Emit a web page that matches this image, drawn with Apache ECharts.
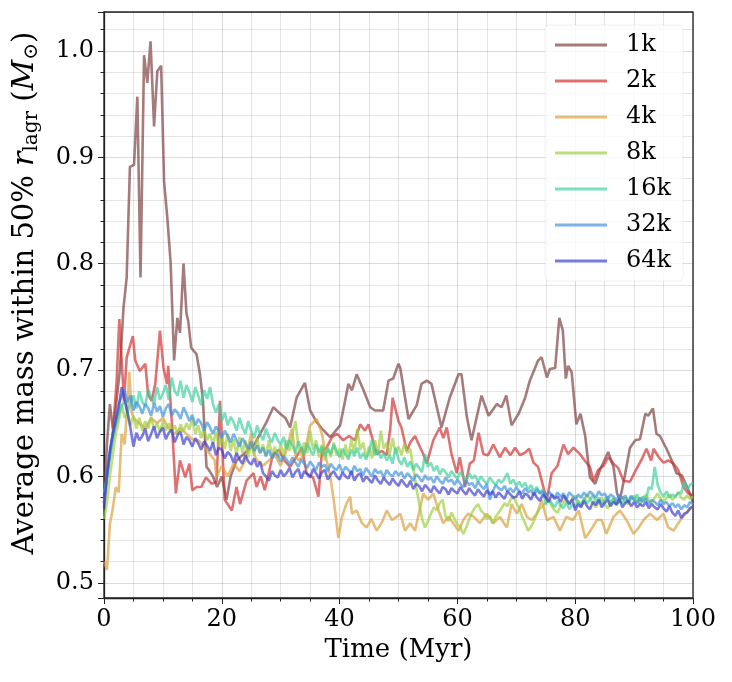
<!DOCTYPE html>
<html>
<head>
<meta charset="utf-8">
<title>Average mass within 50% r_lagr</title>
<script src="https://cdn.jsdelivr.net/npm/echarts@6/dist/echarts.min.js"></script>
<style>
  html, body { margin: 0; padding: 0; background: #fff; }
  #chart { width: 732px; height: 682px; }
</style>
</head>
<body>
<div id="chart"></div>
<script>
// legend names and colours, one per run
const runNames = ["1k", "2k", "4k", "8k", "16k", "32k", "64k"];
const runColors = [
  "rgba(123,60,60,0.68)",
  "rgba(207,47,47,0.68)",
  "rgba(220,158,60,0.68)",
  "rgba(158,207,60,0.68)",
  "rgba(60,207,158,0.68)",
  "rgba(60,146,220,0.68)",
  "rgba(60,60,207,0.68)"
];
const yTickValues = [0.5, 0.6, 0.7, 0.8, 0.9, 1.0];

// sparse runs: [time (Myr), mass (Msun)]
const run1k = [[0,0.575],[0.5,0.63],[1,0.668],[1.5,0.645],[2,0.665],[2.7,0.70],[3.3,0.758],[3.85,0.787],[4.4,0.891],[5.1,0.893],[5.66,0.957],[6.2,0.787],[6.8,0.996],[7.35,0.970],[7.9,1.009],[8.5,0.929],[9.05,0.981],[9.7,0.986],[10.2,0.877],[10.75,0.843],[11.3,0.802],[11.9,0.709],[12.45,0.749],[12.9,0.735],[13.5,0.80],[14.0,0.753],[14.3,0.746],[14.8,0.721],[15.7,0.715],[16.3,0.696],[16.8,0.671],[17.4,0.609],[17.7,0.607],[18.5,0.6],[19.2,0.59],[20,0.6],[20.8,0.578],[21.5,0.6],[22.5,0.615],[23.5,0.62],[24.5,0.625],[25.5,0.63],[26.5,0.64],[27.5,0.65],[28.75,0.665],[29.9,0.659],[30.8,0.655],[31.6,0.646],[32.7,0.674],[34.1,0.688],[35,0.662],[36,0.652],[37,0.645],[38.4,0.637],[38.9,0.64],[40.1,0.648],[41.5,0.687],[42.1,0.681],[42.9,0.696],[44,0.682],[45.2,0.665],[46,0.662],[47.4,0.662],[48.3,0.69],[49.1,0.692],[50,0.706],[50.3,0.702],[51.7,0.654],[53.1,0.667],[53.9,0.687],[54.8,0.69],[55.6,0.687],[57.3,0.646],[58.7,0.674],[60.2,0.696],[60.7,0.696],[61.6,0.656],[62.4,0.634],[64.1,0.676],[65.3,0.657],[66.7,0.668],[67.5,0.665],[68.3,0.676],[69.2,0.648],[70.4,0.659],[71.5,0.674],[72.3,0.69],[73.7,0.709],[74.3,0.712],[75.2,0.693],[75.7,0.701],[76.6,0.702],[77.3,0.749],[77.9,0.737],[78.4,0.692],[78.8,0.704],[79.4,0.698],[80.2,0.649],[80.9,0.659],[81.7,0.638],[82.5,0.599],[83.4,0.593],[84.2,0.606],[85.6,0.623],[86.5,0.609],[87.1,0.584],[87.6,0.578],[88.4,0.6],[89.3,0.627],[90.2,0.634],[91,0.635],[91.9,0.659],[92.4,0.657],[93.2,0.664],[93.8,0.64],[94.4,0.638],[95.5,0.626],[96.4,0.615],[97.2,0.603],[98.1,0.601],[99,0.59],[99.7,0.581],[100,0.575]];
const run2k = [[0,0.575],[0.5,0.6],[1,0.62],[1.5,0.64],[2.15,0.69],[2.6,0.748],[3,0.709],[3.4,0.671],[3.85,0.712],[4.9,0.732],[5.3,0.709],[6.1,0.699],[7,0.706],[7.5,0.677],[8.1,0.671],[8.7,0.687],[9.5,0.737],[10.1,0.702],[10.7,0.687],[10.9,0.704],[11.5,0.652],[12.2,0.584],[12.9,0.615],[13.8,0.599],[14.5,0.612],[15,0.587],[15.7,0.59],[16.5,0.59],[17.3,0.599],[18.3,0.593],[19.1,0.595],[19.7,0.671],[20.5,0.578],[21.7,0.568],[22.5,0.59],[23.1,0.574],[24.2,0.596],[25.4,0.603],[25.9,0.59],[26.6,0.6],[27.3,0.587],[28.7,0.621],[29.7,0.625],[30.6,0.615],[31.6,0.609],[32.6,0.618],[33.6,0.627],[34.4,0.603],[35.5,0.599],[36.4,0.581],[37,0.624],[37.8,0.627],[38.7,0.637],[39.6,0.64],[40.6,0.634],[41.6,0.638],[42.6,0.634],[43.5,0.649],[44.3,0.643],[44.9,0.649],[45.5,0.637],[46.3,0.621],[47.2,0.624],[48,0.62],[48.6,0.645],[49,0.674],[50,0.652],[50.5,0.646],[51.4,0.624],[52,0.632],[52.8,0.638],[53.7,0.627],[54.2,0.621],[54.8,0.612],[55.9,0.634],[57,0.646],[57.6,0.636],[58.2,0.646],[59,0.621],[59.9,0.603],[60.4,0.618],[61.3,0.59],[62.1,0.612],[62.8,0.615],[63.6,0.641],[64.4,0.621],[65.2,0.62],[66.1,0.63],[67.2,0.618],[68.1,0.627],[69,0.62],[69.8,0.627],[70.6,0.62],[71.4,0.622],[72.2,0.626],[72.9,0.613],[73.7,0.609],[74.6,0.59],[75.2,0.578],[76,0.603],[77,0.61],[78,0.63],[78.8,0.621],[79.7,0.627],[80.8,0.621],[81.6,0.615],[82.5,0.609],[83.1,0.596],[83.9,0.606],[84.8,0.61],[85.6,0.618],[86.5,0.612],[87.3,0.608],[88.2,0.596],[89.3,0.595],[90.2,0.605],[91.2,0.615],[92.1,0.626],[92.9,0.615],[93.3,0.626],[94.2,0.618],[95,0.613],[95.8,0.615],[96.7,0.612],[97.5,0.606],[98.4,0.59],[99.2,0.584],[100,0.582]];
const run4k = [[0,0.52],[0.5,0.512],[1,0.555],[1.5,0.57],[2,0.59],[2.5,0.585],[3,0.64],[3.5,0.63],[4,0.67],[4.3,0.698],[4.7,0.66],[5,0.655],[6,0.65],[7,0.645],[8,0.655],[9,0.65],[10,0.655],[11,0.645],[12,0.64],[13,0.645],[14,0.64],[15,0.635],[16,0.634],[17,0.628],[18,0.621],[18.8,0.615],[19.1,0.599],[20,0.61],[21,0.6],[22,0.612],[23,0.605],[24,0.615],[25,0.641],[25.5,0.62],[26,0.615],[27,0.61],[28,0.615],[29,0.62],[30,0.61],[31,0.625],[31.9,0.645],[32.5,0.62],[33,0.615],[34,0.62],[35,0.648],[36.1,0.654],[37,0.64],[37.8,0.615],[38.4,0.6],[39,0.578],[39.8,0.542],[40.4,0.562],[41.2,0.575],[41.8,0.581],[42.1,0.565],[42.9,0.568],[43.8,0.556],[44.6,0.552],[45.4,0.56],[46.3,0.549],[47.2,0.557],[48,0.568],[48.9,0.559],[49.7,0.562],[50.3,0.565],[51.1,0.549],[52,0.556],[52.8,0.549],[53.7,0.571],[54.2,0.584],[55,0.578],[55.9,0.584],[56.8,0.568],[57.6,0.556],[58.5,0.562],[59.3,0.556],[60.2,0.549],[61,0.559],[61.8,0.565],[62.8,0.562],[63.8,0.556],[65,0.565],[66.1,0.556],[67.2,0.562],[68.4,0.552],[69.2,0.574],[70.1,0.565],[70.9,0.574],[71.8,0.562],[72.6,0.559],[73.5,0.565],[74.3,0.578],[75.2,0.559],[76.3,0.562],[77.4,0.549],[78.5,0.562],[79.6,0.559],[80.6,0.568],[81.7,0.542],[82.6,0.549],[83.7,0.559],[84.5,0.559],[85.3,0.546],[86.5,0.562],[87.6,0.568],[88.7,0.559],[89.9,0.546],[90.8,0.552],[91.6,0.559],[92.7,0.565],[93.9,0.559],[95,0.565],[95.8,0.552],[96.7,0.549],[97.5,0.556],[98.3,0.562],[99.2,0.568],[100,0.572]];

// dense runs: one value every 0.5 Myr from 0 to 100
const denseStep = 0.5;
const run8k = [
  0.560,0.575,0.600,0.621,0.640,0.652,0.668,0.655,0.660,0.648,0.657,0.645,0.655,0.643,0.652,0.645,0.656,0.644,0.650,0.642,
  0.652,0.643,0.650,0.641,0.648,0.640,0.649,0.642,0.650,0.644,0.655,0.640,0.648,0.636,0.645,0.634,0.640,0.630,0.642,0.628,
  0.638,0.626,0.640,0.624,0.635,0.620,0.637,0.622,0.634,0.618,0.632,0.620,0.636,0.622,0.630,0.619,0.634,0.621,0.628,0.618,
  0.630,0.620,0.634,0.624,0.640,0.652,0.628,0.620,0.632,0.622,0.643,0.625,0.634,0.618,0.630,0.615,0.628,0.618,0.632,0.620,
  0.626,0.616,0.630,0.618,0.635,0.622,0.645,0.625,0.632,0.618,0.628,0.617,0.634,0.621,0.643,0.626,0.632,0.620,0.636,0.622,
  0.628,0.620,0.631,0.622,0.626,0.608,0.590,0.575,0.560,0.552,0.558,0.565,0.571,0.568,0.575,0.578,0.562,0.558,0.566,0.560,
  0.555,0.552,0.546,0.552,0.560,0.566,0.571,0.574,0.568,0.565,0.560,0.563,0.556,0.562,0.566,0.570,0.575,0.572,0.578,0.581,
  0.575,0.570,0.562,0.556,0.549,0.553,0.558,0.565,0.570,0.572,0.575,0.578,0.572,0.568,0.566,0.572,0.576,0.580,0.574,0.578,
  0.582,0.576,0.572,0.578,0.583,0.579,0.575,0.571,0.576,0.580,0.574,0.570,0.575,0.579,0.573,0.577,0.581,0.576,0.574,0.578,
  0.582,0.577,0.574,0.579,0.583,0.578,0.575,0.580,0.584,0.579,0.576,0.580,0.583,0.578,0.581,0.585,0.580,0.578,0.582,0.579,
  0.581
];
const run16k = [
  0.585,0.600,0.618,0.635,0.648,0.658,0.666,0.672,0.660,0.670,0.676,0.664,0.680,0.670,0.666,0.682,0.674,0.668,0.684,0.672,
  0.678,0.686,0.672,0.693,0.680,0.676,0.690,0.674,0.686,0.679,0.670,0.684,0.676,0.667,0.681,0.673,0.684,0.668,0.660,0.668,
  0.652,0.660,0.648,0.656,0.651,0.643,0.655,0.646,0.640,0.652,0.643,0.636,0.648,0.640,0.634,0.645,0.637,0.632,0.641,0.634,
  0.630,0.637,0.626,0.634,0.629,0.622,0.633,0.627,0.621,0.631,0.625,0.620,0.630,0.623,0.628,0.619,0.626,0.621,0.630,0.624,
  0.618,0.626,0.621,0.616,0.625,0.619,0.627,0.617,0.622,0.616,0.623,0.634,0.620,0.625,0.617,0.622,0.615,0.620,0.612,0.627,
  0.616,0.611,0.618,0.609,0.614,0.606,0.612,0.608,0.604,0.621,0.609,0.613,0.605,0.610,0.602,0.607,0.604,0.599,0.605,0.601,
  0.598,0.604,0.600,0.596,0.603,0.598,0.601,0.595,0.600,0.596,0.593,0.599,0.595,0.592,0.597,0.594,0.598,0.603,0.593,0.597,
  0.591,0.595,0.590,0.594,0.588,0.592,0.586,0.590,0.584,0.588,0.574,0.579,0.575,0.571,0.577,0.573,0.570,0.576,0.569,0.574,
  0.571,0.577,0.573,0.580,0.575,0.578,0.582,0.576,0.580,0.574,0.578,0.581,0.575,0.579,0.573,0.577,0.575,0.580,0.576,0.582,
  0.578,0.583,0.576,0.581,0.578,0.590,0.588,0.609,0.592,0.585,0.581,0.586,0.580,0.583,0.581,0.585,0.584,0.595,0.588,0.592,
  0.594
];
const run32k = [
  0.575,0.600,0.622,0.640,0.655,0.668,0.675,0.681,0.670,0.676,0.662,0.670,0.666,0.659,0.668,0.664,0.657,0.669,0.661,0.666,
  0.656,0.664,0.668,0.657,0.663,0.660,0.654,0.665,0.659,0.652,0.658,0.648,0.654,0.650,0.643,0.651,0.646,0.640,0.647,0.643,
  0.636,0.643,0.638,0.632,0.640,0.634,0.628,0.636,0.631,0.626,0.633,0.624,0.629,0.622,0.627,0.619,0.625,0.617,0.622,0.620,
  0.614,0.619,0.616,0.611,0.618,0.613,0.609,0.616,0.612,0.608,0.614,0.610,0.606,0.613,0.609,0.611,0.605,0.612,0.608,0.606,
  0.611,0.604,0.609,0.606,0.602,0.610,0.605,0.607,0.601,0.608,0.604,0.600,0.607,0.603,0.605,0.599,0.606,0.602,0.600,0.605,
  0.601,0.604,0.598,0.603,0.600,0.596,0.602,0.599,0.595,0.601,0.597,0.599,0.594,0.600,0.596,0.593,0.599,0.595,0.597,0.592,
  0.597,0.593,0.590,0.596,0.592,0.594,0.589,0.595,0.591,0.588,0.593,0.578,0.586,0.592,0.589,0.587,0.591,0.586,0.589,0.585,
  0.590,0.586,0.584,0.589,0.585,0.587,0.582,0.588,0.584,0.586,0.581,0.586,0.583,0.580,0.585,0.581,0.584,0.579,0.585,0.582,
  0.578,0.583,0.580,0.585,0.581,0.586,0.583,0.580,0.586,0.582,0.584,0.579,0.583,0.581,0.577,0.583,0.579,0.582,0.576,0.581,
  0.578,0.575,0.580,0.576,0.579,0.574,0.578,0.576,0.573,0.578,0.574,0.576,0.572,0.575,0.571,0.574,0.569,0.573,0.571,0.576,
  0.574
];
const run64k = [
  0.570,0.600,0.625,0.640,0.652,0.665,0.684,0.672,0.660,0.645,0.628,0.641,0.634,0.638,0.645,0.633,0.640,0.647,0.636,0.642,
  0.646,0.635,0.641,0.644,0.632,0.639,0.642,0.630,0.637,0.634,0.628,0.636,0.631,0.625,0.633,0.629,0.624,0.632,0.620,0.627,
  0.625,0.617,0.623,0.620,0.613,0.622,0.616,0.612,0.620,0.614,0.611,0.617,0.609,0.614,0.603,0.600,0.596,0.605,0.601,0.599,
  0.606,0.600,0.603,0.608,0.599,0.604,0.607,0.598,0.605,0.602,0.599,0.607,0.603,0.598,0.604,0.606,0.597,0.602,0.605,0.600,
  0.597,0.604,0.600,0.598,0.605,0.596,0.601,0.603,0.595,0.600,0.597,0.594,0.601,0.596,0.593,0.599,0.595,0.592,0.598,0.594,
  0.591,0.597,0.593,0.590,0.596,0.588,0.593,0.591,0.586,0.592,0.589,0.585,0.591,0.587,0.584,0.590,0.588,0.583,0.589,0.586,
  0.584,0.590,0.586,0.583,0.589,0.585,0.582,0.588,0.584,0.581,0.587,0.583,0.586,0.580,0.585,0.582,0.579,0.586,0.583,0.580,
  0.581,0.586,0.579,0.584,0.582,0.578,0.585,0.580,0.577,0.583,0.580,0.576,0.583,0.579,0.581,0.576,0.582,0.578,0.574,0.579,
  0.568,0.574,0.571,0.577,0.572,0.569,0.576,0.573,0.578,0.571,0.575,0.578,0.572,0.576,0.574,0.579,0.571,0.575,0.577,0.572,
  0.576,0.571,0.574,0.572,0.576,0.570,0.574,0.571,0.569,0.574,0.570,0.567,0.572,0.566,0.563,0.568,0.561,0.565,0.566,0.570,
  0.572
];

function denseToPairs(values) {
  return values.map((v, i) => [i * denseStep, v]);
}

const runData = [run1k, run2k, run4k, denseToPairs(run8k), denseToPairs(run16k), denseToPairs(run32k), denseToPairs(run64k)];

const font = "DejaVu Serif";
const axisColor = "#222";

const chart = echarts.init(document.getElementById("chart"), null, { renderer: "canvas" });

const option = {
  animation: false,
  backgroundColor: "#fff",
  textStyle: { fontFamily: font, color: "#000" },
  grid: {
    left: 104,
    right: 39,
    top: 12,
    bottom: 84,
    show: true,
    borderColor: axisColor,
    borderWidth: 1.3,
    backgroundColor: "transparent"
  },
  legend: {
    data: runNames,
    orient: "vertical",
    left: 545,
    top: 25,
    padding: [8, 12, 8, 10],
    itemWidth: 52,
    itemHeight: 3,
    itemGap: 12,
    icon: "rect",
    backgroundColor: "rgba(255,255,255,0.8)",
    borderColor: "rgba(0,0,0,0.06)",
    borderWidth: 1,
    borderRadius: 4,
    textStyle: {
      fontFamily: font,
      fontSize: 24,
      lineHeight: 24,
      color: "#000",
      padding: [0, 0, 0, 14]
    }
  },
  xAxis: {
    type: "value",
    min: 0,
    max: 100,
    interval: 20,
    name: "Time (Myr)",
    nameLocation: "middle",
    nameGap: 38,
    nameTextStyle: { fontFamily: font, fontSize: 26, color: "#000" },
    axisLine: { show: true, lineStyle: { color: axisColor, width: 1.3 } },
    axisTick: { show: true, length: 6, lineStyle: { color: axisColor, width: 1 } },
    minorTick: { show: true, splitNumber: 4, length: 3.5, lineStyle: { color: axisColor, width: 1 } },
    axisLabel: { fontFamily: font, fontSize: 24, color: "#000", margin: 10 },
    splitLine: { show: true, lineStyle: { color: "rgba(0,0,0,0.14)", width: 1 } },
    minorSplitLine: { show: true, lineStyle: { color: "rgba(0,0,0,0.1)", width: 1 } }
  },
  yAxis: {
    type: "value",
    min: 0.4857,
    max: 1.0366,
    splitNumber: 5,
    name: "Average mass within 50% {it|r}{sub|lagr} ({it|M}{sub|⊙})",
    nameLocation: "middle",
    nameGap: 62,
    nameTextStyle: {
      fontFamily: font,
      fontSize: 29,
      color: "#000",
      lineHeight: 34,
      padding: [0, 0, 0, 24],
      rich: {
        it: { fontFamily: font, fontStyle: "italic", fontSize: 30, color: "#000" },
        sub: { fontFamily: font, fontSize: 20, color: "#000", verticalAlign: "bottom", lineHeight: 34 }
      }
    },
    axisLine: { show: true, lineStyle: { color: axisColor, width: 1.3 } },
    axisTick: { show: true, length: 6, lineStyle: { color: axisColor, width: 1 } },
    minorTick: { show: true, splitNumber: 5, length: 3.5, lineStyle: { color: axisColor, width: 1 } },
    axisLabel: {
      fontFamily: font,
      fontSize: 24,
      color: "#000",
      margin: 10,
      showMinLabel: false,
      showMaxLabel: false,
      formatter: function (v) {
        const hit = yTickValues.find(t => Math.abs(t - v) < 1e-6);
        return hit === undefined ? "" : hit.toFixed(1);
      }
    },
    splitLine: { show: true, lineStyle: { color: "rgba(0,0,0,0.14)", width: 1 } },
    minorSplitLine: { show: true, lineStyle: { color: "rgba(0,0,0,0.1)", width: 1 } }
  },
  series: runNames.map((name, i) => ({
    name: name,
    type: "line",
    data: runData[i],
    showSymbol: false,
    symbol: "none",
    color: runColors[i],
    lineStyle: { width: 2.6, color: runColors[i] },
    emphasis: { disabled: true }
  }))
};

chart.setOption(option);
</script>
</body>
</html>
